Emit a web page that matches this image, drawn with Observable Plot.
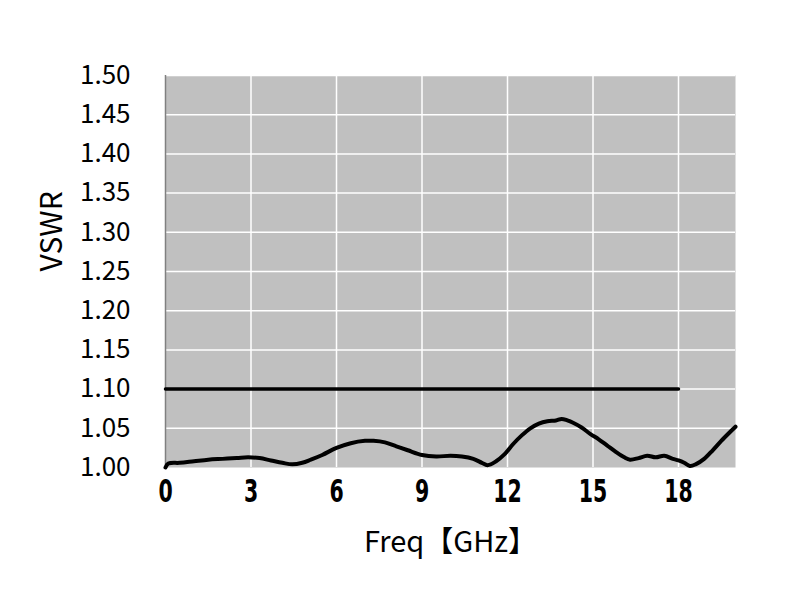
<!DOCTYPE html>
<html>
<head>
<meta charset="utf-8">
<script src="https://cdn.jsdelivr.net/npm/d3@7"></script>
<script src="https://cdn.jsdelivr.net/npm/@observablehq/plot@0.6"></script>
<style>
  html, body { margin: 0; padding: 0; background: #fff; }
</style>
</head>
<body>
<div id="chart"></div>
<script>
// Measured VSWR curve (GHz, VSWR)
const freq = [0, 0.1, 0.5, 1.0, 1.5, 2.0, 2.5, 2.9, 3.3, 3.7, 4.1, 4.45, 4.8, 5.1, 5.5, 6.0, 6.5, 7.0, 7.3, 7.7, 8.1, 8.5, 9.0, 9.5, 10.0, 10.4, 10.8, 11.1, 11.3, 11.6, 11.9, 12.2, 12.5, 12.8, 13.1, 13.4, 13.7, 13.9, 14.1, 14.3, 14.6, 14.9, 15.2, 15.5, 15.8, 16.1, 16.3, 16.6, 16.9, 17.2, 17.5, 17.8, 18.0, 18.2, 18.4, 18.6, 18.9, 19.2, 19.5, 19.8, 20.0];
const vswr = [1.000, 1.005, 1.006, 1.008, 1.010, 1.011, 1.012, 1.013, 1.012, 1.009, 1.006, 1.004, 1.006, 1.010, 1.016, 1.025, 1.031, 1.034, 1.034, 1.032, 1.027, 1.022, 1.016, 1.014, 1.015, 1.014, 1.011, 1.006, 1.003, 1.008, 1.017, 1.030, 1.041, 1.050, 1.056, 1.059, 1.060, 1.062, 1.060, 1.057, 1.051, 1.043, 1.036, 1.028, 1.020, 1.013, 1.010, 1.012, 1.015, 1.013, 1.015, 1.011, 1.009, 1.006, 1.002, 1.004, 1.011, 1.022, 1.034, 1.045, 1.052];
// Spec limit line
const limitFreq = [0, 18];
const limitVswr = [1.10, 1.10];
// Axis ticks
const xTicks = [0, 3, 6, 9, 12, 15, 18];
const xGrid = [3, 6, 9, 12, 15, 18];
const yTicks = [1.00, 1.05, 1.10, 1.15, 1.20, 1.25, 1.30, 1.35, 1.40, 1.45, 1.50];

const curve = freq.map((f, i) => ({f, v: vswr[i]}));
const limit = limitFreq.map((f, i) => ({f, v: limitVswr[i]}));

const chart = Plot.plot({
  width: 800,
  height: 600,
  marginLeft: 165,
  marginRight: 65,
  marginTop: 75,
  marginBottom: 133,
  style: {background: "#ffffff", fontFamily: "'Noto Sans CJK JP', 'Open Sans', sans-serif"},
  x: {domain: [0, 20], label: null, axis: null},
  y: {domain: [1.0, 1.5], label: null},
  marks: [
    Plot.frame({fill: "#c0c0c0", stroke: null}),
    Plot.gridX(xGrid, {stroke: "#ffffff", strokeOpacity: 1, strokeWidth: 1.5}),
    Plot.gridY(yTicks.slice(1), {stroke: "#ffffff", strokeOpacity: 1, strokeWidth: 1.5}),
    Plot.ruleX([0], {stroke: "#808080", strokeWidth: 1.5}),
    Plot.axisY(yTicks, {tickSize: 0, tickPadding: 35, fontSize: 26, tickFormat: d => d.toFixed(2), fill: "#000"}),
    Plot.text(xTicks, {x: d => d, frameAnchor: "bottom", dy: 34, text: d => String(d), fontSize: 32,
      fontWeight: "bold", fill: "#000", fontFamily: "'DejaVu Sans', sans-serif", className: "xtick"}),
    Plot.line(limit, {x: "f", y: "v", stroke: "#000", strokeWidth: 3.5}),
    Plot.line(curve, {x: "f", y: "v", stroke: "#000", strokeWidth: 4, curve: "catmull-rom"}),
    Plot.text(["Freq【GHz】"], {frameAnchor: "bottom", dy: 84, fontSize: 29, fill: "#000"}),
    Plot.text(["VSWR"], {frameAnchor: "left", dx: -113, rotate: -90, fontSize: 30, fill: "#000"})
  ]
});
// condense x tick labels horizontally
d3.select(chart).selectAll("g.xtick text").each(function() {
  const t = this.getAttribute("transform") || "";
  this.setAttribute("transform", t + " scale(0.64,1)");
});
document.getElementById("chart").appendChild(chart);
</script>
</body>
</html>
